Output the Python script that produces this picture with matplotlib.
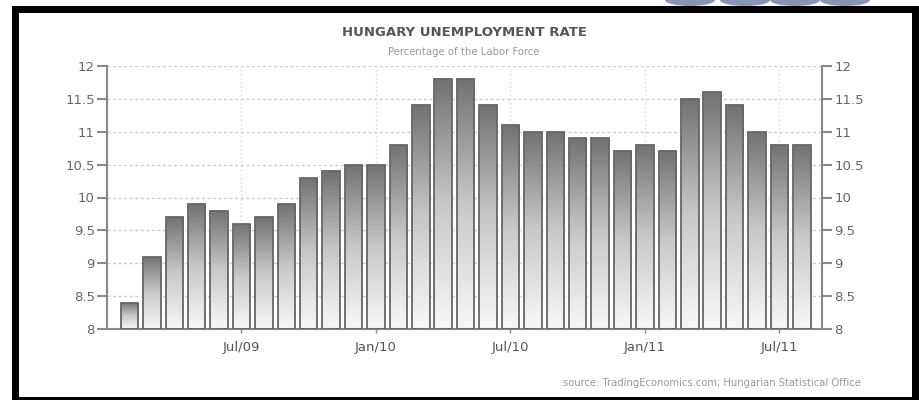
import numpy as np
import matplotlib
matplotlib.use("Agg")
import matplotlib.pyplot as plt
from matplotlib.colors import LinearSegmentedColormap
from matplotlib.patches import Rectangle, Ellipse

# monthly unemployment rate, Feb 2009 .. Aug 2011
months = ["Feb/09", "Mar/09", "Apr/09", "May/09", "Jun/09", "Jul/09", "Aug/09", "Sep/09",
          "Oct/09", "Nov/09", "Dec/09", "Jan/10", "Feb/10", "Mar/10", "Apr/10", "May/10",
          "Jun/10", "Jul/10", "Aug/10", "Sep/10", "Oct/10", "Nov/10", "Dec/10", "Jan/11",
          "Feb/11", "Mar/11", "Apr/11", "May/11", "Jun/11", "Jul/11", "Aug/11"]
rate = [8.4, 9.1, 9.7, 9.9, 9.8, 9.6, 9.7, 9.9, 10.3, 10.4, 10.5, 10.5, 10.8, 11.4, 11.8, 11.8,
        11.4, 11.1, 11.0, 11.0, 10.9, 10.9, 10.7, 10.8, 10.7, 11.5, 11.6, 11.4, 11.0, 10.8, 10.8]
tick_labels = ["Jul/09", "Jan/10", "Jul/10", "Jan/11", "Jul/11"]
yticks = [8, 8.5, 9, 9.5, 10, 10.5, 11, 11.5, 12]

W, H = 919, 400
fig = plt.figure(figsize=(W / 100, H / 100), dpi=100)
fig.patch.set_facecolor("white")
ax = fig.add_axes([107 / W, 71 / H, 715 / W, 263 / H])

ymin, ymax = 8, 12
x = np.arange(len(rate))
cmap = LinearSegmentedColormap.from_list("bargrad", ["#f8f8f8", "#c8c8c8", "#727272"])
grad = np.linspace(0, 1, 256).reshape(-1, 1)

bars = ax.bar(x, np.array(rate) - ymin, bottom=ymin, width=0.78,
              facecolor="none", edgecolor="#666666", linewidth=1.3, zorder=3)
for b in bars:
    x0, y0 = b.get_x(), b.get_y()
    im = ax.imshow(grad, extent=[x0, x0 + b.get_width(), y0, y0 + b.get_height()],
                   origin="lower", aspect="auto", cmap=cmap, zorder=2)
    im.set_clip_path(b)

ax.set_xlim(-1.0, 30.9)
ax.set_ylim(ymin, ymax)

tick_pos = [months.index(t) for t in tick_labels]
ax.set_xticks(tick_pos)
ax.set_xticklabels(tick_labels)
ax.set_yticks(yticks)
ax.set_yticklabels([f"{v:g}" for v in yticks])

ax.grid(True, axis="y", linestyle=(0, (2, 2)), color="#cccccc", linewidth=1, zorder=0)
ax.grid(True, axis="x", linestyle=(0, (1, 2)), color="#d8d8d8", linewidth=1, zorder=0)
ax.set_axisbelow(True)

for s in ["left", "right", "bottom"]:
    ax.spines[s].set_color("#888888")
    ax.spines[s].set_linewidth(1.5)
ax.spines["top"].set_visible(False)

ax.tick_params(axis="y", which="both", left=True, right=True, labelleft=True, labelright=True,
               length=7.2, width=1.5, color="#888888", pad=1.5, labelsize=9.5, labelcolor="#666666")
ax.tick_params(axis="x", length=3, width=1, color="#888888", pad=6, labelsize=9.5,
               labelcolor="#555555")

fig.text(464 / W, 1 - 33 / H, "HUNGARY UNEMPLOYMENT RATE", ha="center", va="center",
         fontsize=9.5, fontweight="bold", color="#555555")
fig.text(464 / W, 1 - 52 / H, "Percentage of the Labor Force", ha="center", va="center",
         fontsize=7.3, color="#999999")
fig.text(861 / W, 1 - 383 / H, "source: TradingEconomics.com; Hungarian Statistical Office",
         ha="right", va="center", fontsize=7.2, color="#999999")

# black frame around the chart
for rx, ry, rw, rh in [(12, 0, 7, 394), (12, 387, 907, 7), (912, 0, 7, 394), (12, 0, 907, 3)]:
    fig.add_artist(Rectangle((rx / W, ry / H), rw / W, rh / H, transform=fig.transFigure,
                             facecolor="black", edgecolor="none"))

# bits of the logo peeking in at the top
for cx in [690, 745, 795, 845]:
    fig.add_artist(Ellipse((cx / W, 1.0), 50 / W, 12 / H, transform=fig.transFigure,
                           facecolor="#3b4f86", edgecolor="none", alpha=0.6))

fig.savefig("out.png", dpi=100)
